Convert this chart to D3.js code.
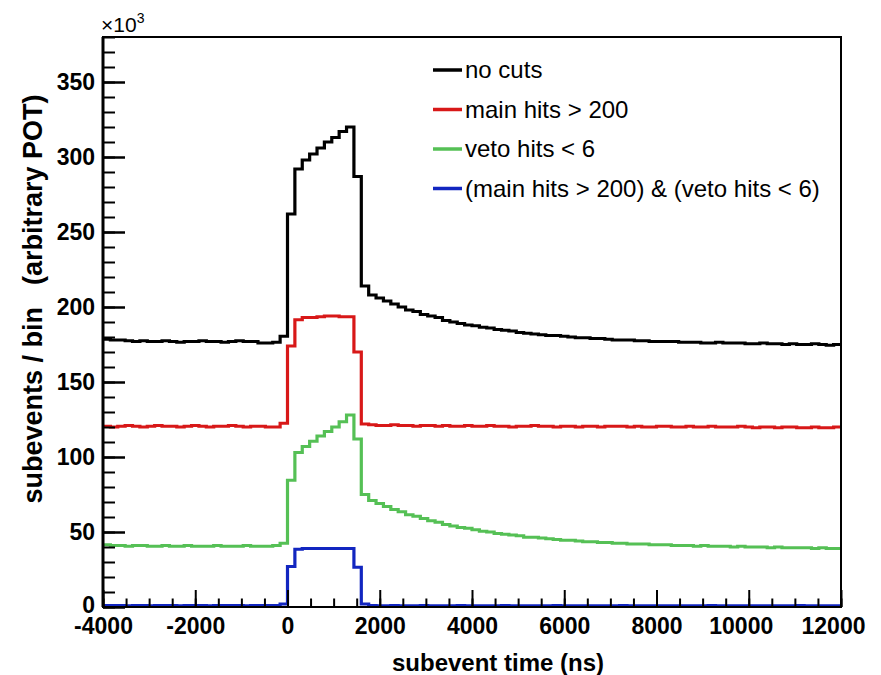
<!DOCTYPE html>
<html>
<head>
<meta charset="utf-8">
<script src="https://cdn.jsdelivr.net/npm/d3@7"></script>
<style>
  body { margin: 0; background: #fff; }
  svg text { font-family: "Liberation Sans", Arial, sans-serif; }
</style>
</head>
<body>
<div class="chart"></div>
<script>
// Histogram binning: 100 bins of 160 ns from -4000 to 12000
var binStart = -4000;
var binWidth = 160;
var binCount = 100;

// Series values (x10^3 subevents / bin), one value per bin
var noCuts = [
  178.5, 178, 178, 177.5, 177, 177.5, 177, 177, 177.5, 177,
  176.5, 177, 177, 177.5, 177, 177, 176.5, 177, 177.5, 177,
  177, 176, 176, 176.5, 180.5,
  262, 292, 298, 302, 306, 310, 313, 317, 320, 287, 214,
  208, 206, 204, 202, 200, 198, 197, 195, 194, 193,
  191, 190, 189, 188, 187.5, 186.5, 186, 185, 184.5, 184,
  183, 182.5, 182, 181.5, 181, 181, 180.5, 180, 179.5, 179.5,
  179, 179, 178.5, 178, 178, 178, 177.5, 177.5, 177, 177,
  177, 177, 176.5, 176.5, 176.5, 176, 176, 176.5, 176, 176,
  176, 175.5, 175.5, 176, 175.5, 175.5, 175, 175.5, 175, 175,
  175.5, 175, 174.5, 175
];

var mainHits = [
  120.5, 120, 120.5, 121, 120.5, 120, 120.5, 121, 120.5, 120.5,
  120, 120.5, 121, 120.5, 120, 120.5, 120.5, 121, 120.5, 120,
  120.5, 120.5, 120, 120, 122.5,
  174, 191.5, 193, 193, 193.5, 194, 194, 193.5, 193.5, 170, 122,
  121.5, 121, 121, 121.5, 121, 121, 120.5, 121, 121, 120.5,
  121, 120.5, 120.5, 121, 120.5, 120.5, 121, 120.5, 120.5, 120,
  120.5, 120.5, 121, 120.5, 120.5, 120, 120.5, 120.5, 120, 120.5,
  120.5, 120, 120.5, 120.5, 120.5, 120, 120.5, 120, 120, 120.5,
  120.5, 120, 120, 120.5, 120, 120, 120.5, 120, 120, 120,
  120.5, 120, 119.5, 120, 120, 119.5, 120, 120, 119.5, 119.5,
  120, 119.5, 119.5, 120
];

var vetoHits = [
  41.5, 41, 41, 40.5, 41, 41, 40.5, 40.5, 41, 40.5,
  40.5, 41, 40.5, 40.5, 40.5, 41, 40.5, 40.5, 40.5, 41,
  40.5, 40.5, 40.5, 41, 42.5,
  84.5, 103, 107, 110.5, 114, 117, 120, 123.5, 128, 112, 75,
  71, 69, 67, 65, 63.5, 61.5, 60.5, 59, 57.5, 56.5,
  55, 54, 53, 52.5, 51.5, 50.5, 50, 49, 48.5, 48,
  47.5, 46.5, 46.5, 46, 45.5, 45, 44.5, 44.5, 44, 43.5,
  43.5, 43, 43, 42.5, 42.5, 42, 42, 42, 41.5, 41.5,
  41.5, 41, 41, 41, 40.5, 41, 40.5, 40.5, 40.5, 40,
  40.5, 40, 40, 40, 39.5, 40, 39.5, 39.5, 39.5, 39.5,
  39, 39.5, 39, 39
];

var bothCuts = [
  1, 1, 1, 0.8, 1, 1, 0.8, 1, 1, 1,
  0.8, 1, 1, 1, 0.8, 1, 1, 1, 1, 0.8,
  1, 1, 1, 1, 2,
  27, 38.5, 39, 39, 39, 39, 39, 39, 39, 26.5, 2,
  1, 0.8, 0.8, 1, 0.8, 0.8, 0.8, 1, 0.8, 0.8,
  0.8, 0.8, 1, 0.8, 0.8, 0.8, 0.8, 0.8, 1, 0.8,
  0.8, 0.8, 0.8, 0.8, 0.8, 1, 0.8, 0.8, 0.8, 0.8,
  0.8, 0.8, 0.8, 0.8, 1, 0.8, 0.8, 0.8, 0.8, 0.8,
  0.8, 0.8, 0.8, 0.8, 0.8, 0.8, 1, 0.8, 0.8, 0.8,
  0.8, 0.8, 0.8, 0.8, 0.8, 0.8, 0.8, 0.8, 1, 0.8,
  0.8, 0.8, 0.8, 0.8
];

var seriesNames = ["no cuts", "main hits > 200", "veto hits < 6", "(main hits > 200) & (veto hits < 6)"];
var seriesColors = ["#000000", "#d81818", "#55c055", "#1226c0"];
var seriesValues = [noCuts, mainHits, vetoHits, bothCuts];

// Tick labels
var xTicks = [-4000, -2000, 0, 2000, 4000, 6000, 8000, 10000, 12000];
var yTicks = [0, 50, 100, 150, 200, 250, 300, 350];

// Chart dimensions
var svgWidth = 881;
var svgHeight = 675;
var margin = { top: 37, right: 40, bottom: 68, left: 103 };
var width = svgWidth - margin.left - margin.right;
var height = svgHeight - margin.top - margin.bottom;

var svg = d3.select(".chart")
  .append("svg")
  .attr("width", svgWidth)
  .attr("height", svgHeight);

var chartGroup = svg.append("g")
  .attr("transform", `translate(${margin.left}, ${margin.top})`);

// Scales
var xScale = d3.scaleLinear().domain([-4000, 12000]).range([0, width]);
var yScale = d3.scaleLinear().domain([0, 380]).range([height, 0]);

// Bin edges
var edges = d3.range(binCount + 1).map(i => binStart + i * binWidth);

chartGroup.append("clipPath").attr("id", "plotClip")
  .append("rect").attr("x", 0).attr("y", 0).attr("width", width).attr("height", height);

// Histogram outlines
var stepLine = d3.line()
  .x(d => xScale(d[0]))
  .y(d => yScale(d[1]))
  .curve(d3.curveStepAfter);

seriesValues.forEach((vals, k) => {
  var pts = vals.map((v, i) => [edges[i], v]);
  pts.push([edges[binCount], vals[vals.length - 1]]);
  chartGroup.append("path")
    .attr("clip-path", "url(#plotClip)")
    .attr("d", stepLine(pts))
    .attr("fill", "none")
    .attr("stroke", seriesColors[k])
    .attr("stroke-width", 3.2);
});

// Frame
chartGroup.append("rect")
  .attr("x", 0).attr("y", 0)
  .attr("width", width).attr("height", height)
  .attr("fill", "none")
  .attr("stroke", "#000")
  .attr("stroke-width", 2);
chartGroup.append("line")
  .attr("x1", 0).attr("x2", 0).attr("y1", 0).attr("y2", height)
  .attr("stroke", "#000").attr("stroke-width", 3);

// Axes: minor ticks
var xMinor = d3.range(-4000, 12001, 500);
var yMinor = d3.range(0, 381, 10);

chartGroup.append("g")
  .attr("transform", `translate(0, ${height})`)
  .call(d3.axisBottom(xScale).tickValues(xMinor).tickSize(-8.5).tickFormat(""))
  .call(g => g.select(".domain").remove())
  .selectAll("line").attr("stroke-width", 2);

chartGroup.append("g")
  .call(d3.axisLeft(yScale).tickValues(yMinor).tickSize(-12).tickFormat(""))
  .call(g => g.select(".domain").remove())
  .selectAll("line").attr("stroke-width", 2);

// Axes: major ticks with labels (plain hyphen for negatives)
var xAxis = chartGroup.append("g")
  .attr("transform", `translate(0, ${height})`)
  .call(d3.axisBottom(xScale).tickValues(xTicks).tickSize(-17).tickPadding(11).tickFormat(d => String(d)))
  .call(g => g.select(".domain").remove());
xAxis.selectAll("line").attr("stroke-width", 2);
xAxis.selectAll("text")
  .attr("font-family", "'Liberation Sans', Arial, sans-serif")
  .attr("font-size", 23)
  .attr("font-weight", "bold")
  .attr("fill", "#000");
// the wide labels sit slightly left of their ticks in the original
xAxis.selectAll("text").filter(d => d >= 10000)
  .attr("x", -8);

var yAxis = chartGroup.append("g")
  .call(d3.axisLeft(yScale).tickValues(yTicks).tickSize(-22).tickPadding(8).tickFormat(d => String(d)))
  .call(g => g.select(".domain").remove());
yAxis.selectAll("line").attr("stroke-width", 2.5);
yAxis.selectAll("text")
  .attr("font-family", "'Liberation Sans', Arial, sans-serif")
  .attr("font-size", 23)
  .attr("font-weight", "bold")
  .attr("fill", "#000");
yAxis.selectAll("text").filter(d => d === 0)
  .attr("dy", "0.25em");

// Exponent label
var expText = svg.append("text")
  .attr("x", margin.left - 2)
  .attr("y", 32)
  .attr("font-size", 21)
  .text("\u00d710");
expText.append("tspan")
  .attr("dy", -9)
  .attr("font-size", 14)
  .text("3");

// Axis titles
chartGroup.append("text")
  .attr("x", xScale(4000) + 26)
  .attr("y", height + 64)
  .attr("text-anchor", "middle")
  .attr("font-size", 24)
  .attr("font-weight", "bold")
  .text("subevent time (ns)");

var yTitle = svg.append("text")
  .attr("transform", "rotate(-90)")
  .attr("x", -299)
  .attr("y", 42)
  .attr("text-anchor", "middle")
  .attr("font-size", 27)
  .attr("font-weight", "bold");
yTitle.append("tspan").text("subevents / bin");
yTitle.append("tspan").attr("dx", 22).text("(arbitrary POT)");

// Legend
var legend = svg.append("g");
seriesNames.forEach((name, k) => {
  var ly = 70 + k * 39.5;
  legend.append("line")
    .attr("x1", 433).attr("x2", 462)
    .attr("y1", ly).attr("y2", ly)
    .attr("stroke", seriesColors[k])
    .attr("stroke-width", 3.5);
  legend.append("text")
    .attr("x", 465)
    .attr("y", ly)
    .attr("dy", "0.35em")
    .attr("font-size", 24)
    .text(name);
});
</script>
</body>
</html>
